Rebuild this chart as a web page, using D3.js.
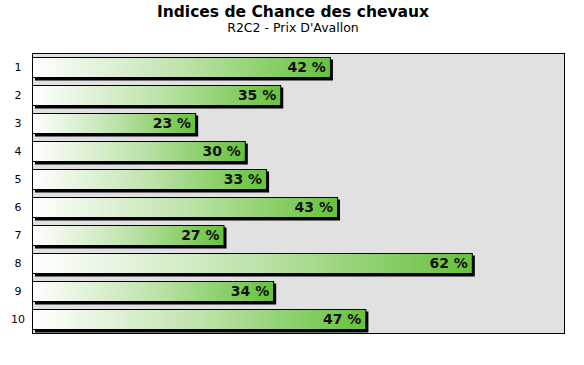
<!DOCTYPE html>
<html>
<head>
<meta charset="utf-8">
<script src="https://cdn.jsdelivr.net/npm/d3@7"></script>
<style>
  body { margin: 0; background: #fff; }
  svg { display: block; }
</style>
</head>
<body>
<script>
const width = 584, height = 365;

const horses = ["1", "2", "3", "4", "5", "6", "7", "8", "9", "10"];
const chances = [42, 35, 23, 30, 33, 43, 27, 62, 34, 47];

const margin = {top: 53, right: 20, bottom: 32, left: 32};

const svg = d3.select("body").append("svg")
    .attr("width", width)
    .attr("height", height);

const grad = svg.append("defs").append("linearGradient")
    .attr("id", "barGrad")
    .attr("x1", "0%").attr("x2", "100%").attr("y1", "0%").attr("y2", "0%");
grad.append("stop").attr("offset", "0%").attr("stop-color", "#ffffff");
grad.append("stop").attr("offset", "50%").attr("stop-color", "#bfe3ac");
grad.append("stop").attr("offset", "100%").attr("stop-color", "#66c23c");

svg.append("text")
    .attr("x", width / 2 + 1).attr("y", 17)
    .attr("text-anchor", "middle")
    .style("font", "bold 15.5px 'DejaVu Sans', Verdana, sans-serif")
    .text("Indices de Chance des chevaux");

svg.append("text")
    .attr("x", width / 2 + 1).attr("y", 32)
    .attr("text-anchor", "middle")
    .style("font", "12.5px 'DejaVu Sans', Verdana, sans-serif")
    .text("R2C2 - Prix D'Avallon");

const x = d3.scaleLinear()
    .domain([0, 75])
    .range([margin.left, width - margin.right]);

const y = d3.scaleBand()
    .domain(horses)
    .range([margin.top, height - margin.bottom])
    .paddingInner(0.25)
    .paddingOuter(0.125);

svg.append("rect")
    .attr("x", margin.left + 0.5).attr("y", margin.top + 0.5)
    .attr("width", width - margin.right - margin.left)
    .attr("height", height - margin.bottom - margin.top)
    .attr("fill", "#e1e1e1")
    .attr("stroke", "#000");

const yAxis = svg.append("g")
    .attr("transform", `translate(${margin.left},0)`)
    .call(d3.axisLeft(y).tickSize(0).tickPadding(10));
yAxis.select(".domain").remove();
yAxis.selectAll("text")
    .attr("text-anchor", "middle")
    .attr("dx", "-4")
    .style("font", "11px 'DejaVu Sans', Verdana, sans-serif")
    .attr("fill", "#000");

const data = horses.map((h, i) => ({horse: h, value: chances[i]}));

const bar = svg.append("g").selectAll("g")
  .data(data)
  .join("g");

// shadow
bar.append("rect")
    .attr("x", x(0) + 3)
    .attr("y", d => y(d.horse) + 3)
    .attr("width", d => x(d.value) - x(0))
    .attr("height", y.bandwidth())
    .attr("fill", "#000");

bar.append("rect")
    .attr("x", x(0) + 0.5)
    .attr("y", d => Math.round(y(d.horse)) + 0.5)
    .attr("width", d => x(d.value) - x(0))
    .attr("height", y.bandwidth() - 1)
    .attr("fill", "url(#barGrad)")
    .attr("stroke", "#000");

bar.append("text")
    .attr("x", d => x(d.value) - 4)
    .attr("y", d => y(d.horse) + y.bandwidth() / 2 + 5)
    .attr("text-anchor", "end")
    .style("font", "bold 14px 'DejaVu Sans', Verdana, sans-serif")
    .attr("fill", "#111")
    .text(d => d.value + " %");
</script>
</body>
</html>
